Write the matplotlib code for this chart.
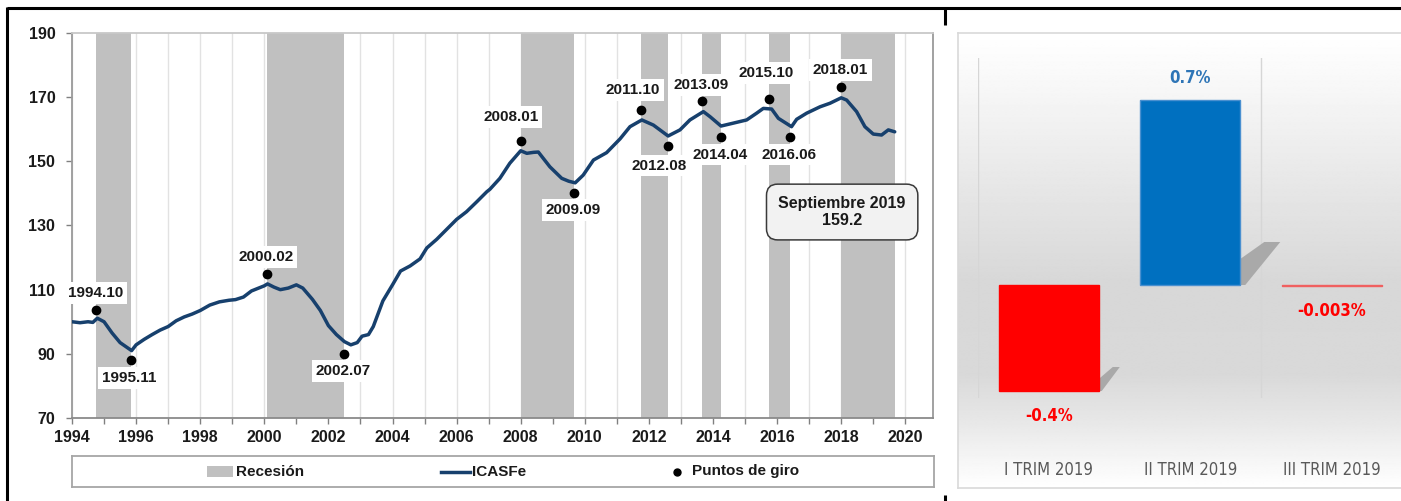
import numpy as np
import matplotlib
matplotlib.use("Agg")
import matplotlib.pyplot as plt
from matplotlib.patches import Rectangle, Polygon
from matplotlib.lines import Line2D
from matplotlib import font_manager

# ---------------- data ----------------
# ICASFe (index), decimal years
icasfe_fecha = [1994.00, 1994.25, 1994.50, 1994.65, 1994.79, 1995.00, 1995.25, 1995.50, 1995.86,
                1996.00, 1996.25, 1996.50, 1996.75, 1997.00, 1997.25, 1997.50, 1997.75, 1998.00,
                1998.30, 1998.60, 1998.90, 1999.10, 1999.35, 1999.60, 1999.85, 2000.00, 2000.10,
                2000.30, 2000.50, 2000.75, 2001.00, 2001.20, 2001.50, 2001.75, 2002.00, 2002.25,
                2002.50, 2002.70, 2002.90, 2003.05, 2003.25, 2003.40, 2003.70, 2004.00, 2004.25,
                2004.55, 2004.86, 2005.07, 2005.38, 2005.69, 2006.00, 2006.31, 2006.63, 2006.94,
                2007.04, 2007.35, 2007.66, 2008.00, 2008.19, 2008.40, 2008.55, 2008.91, 2009.28,
                2009.50, 2009.70, 2009.95, 2010.27, 2010.68, 2011.10, 2011.41, 2011.78, 2012.14,
                2012.60, 2012.97, 2013.28, 2013.70, 2013.91, 2014.25, 2014.63, 2015.05, 2015.36,
                2015.57, 2015.83, 2016.04, 2016.45, 2016.61, 2016.92, 2017.34, 2017.65, 2018.00,
                2018.17, 2018.48, 2018.74, 2019.00, 2019.26, 2019.47, 2019.67]
icasfe_valor = [100.0, 99.7, 100.0, 99.8, 101.1, 100.0, 96.5, 93.5, 91.0,
                92.8, 94.5, 96.0, 97.4, 98.5, 100.3, 101.5, 102.4, 103.5,
                105.2, 106.2, 106.7, 106.9, 107.7, 109.6, 110.6, 111.2, 111.8,
                110.8, 110.0, 110.5, 111.5, 110.5, 107.0, 103.5, 98.8, 96.0,
                93.8, 92.8, 93.5, 95.5, 96.0, 98.5, 106.5, 111.5, 115.8,
                117.4, 119.6, 123.0, 125.7, 128.8, 131.9, 134.3, 137.4, 140.5,
                141.3, 144.7, 149.4, 153.3, 152.5, 152.8, 152.9, 148.3, 144.7,
                143.8, 143.3, 145.7, 150.4, 152.7, 157.0, 160.8, 162.9, 161.3,
                157.9, 159.8, 162.9, 165.5, 163.9, 161.0, 161.9, 162.9, 165.0,
                166.5, 166.3, 163.4, 160.8, 163.1, 165.0, 167.0, 168.1, 169.8,
                169.1, 165.5, 160.8, 158.5, 158.2, 159.8, 159.2]

# turning points (year.month) and dot values
giro_etiqueta = ["1994.10", "1995.11", "2000.02", "2002.07", "2008.01", "2009.09", "2011.10",
                 "2012.08", "2013.09", "2014.04", "2015.10", "2016.06", "2018.01"]
giro_valor = [103.7, 88.1, 114.9, 90.0, 156.4, 140.2, 166.0, 154.9, 168.8, 157.7, 169.5, 157.7, 173.1]

# recessions (peak -> trough)
recesion_inicio = ["1994.10", "2000.02", "2008.01", "2011.10", "2013.09", "2015.10", "2018.01"]
recesion_fin = ["1995.11", "2002.07", "2009.09", "2012.08", "2014.04", "2016.06", "2019.09"]

y_ticks = [70, 90, 110, 130, 150, 170, 190]
x_ticks = list(range(1994, 2021, 2))

nota_texto = "Septiembre 2019\n159.2"
leyenda = ["Recesión", "ICASFe", "Puntos de giro"]

# quarterly change
trimestres = ["I TRIM 2019", "II TRIM 2019", "III TRIM 2019"]
variacion = [-0.4, 0.7, -0.003]
variacion_txt = ["-0.4%", "0.7%", "-0.003%"]


def ym(s):
    y, m = s.split(".")
    return int(y) + (int(m) - 1) / 12.0


# ---------------- figure ----------------
W, H = 1401, 501
fig = plt.figure(figsize=(W / 100, H / 100), dpi=100)
fig.patch.set_facecolor("white")


def axes_px(x0, y0, x1, y1, **kw):
    return fig.add_axes([x0 / W, 1 - y1 / H, (x1 - x0) / W, (y1 - y0) / H], **kw)


BASE = ["Liberation Sans", "DejaVu Sans"]
DARK = "#1a1a1a"
NAVY = "#17406d"
BAND = "#c0c0c0"

# ---- left line chart ----
ax = axes_px(72, 33, 933, 418)
ax.set_xlim(1994, 1994 + 861 / 32.05)
ax.set_ylim(70, 190)
ax.set_axisbelow(True)

for a, b in zip(recesion_inicio, recesion_fin):
    ax.axvspan(ym(a), ym(b), color=BAND, lw=0, zorder=1)

ax.plot(icasfe_fecha, icasfe_valor, color=NAVY, lw=2.5, zorder=3,
        solid_capstyle="round", solid_joinstyle="round")

offs = [(0, -17), (-2, 18), (-1, -17), (-1, 17), (-10, -24), (-1, 17), (-8, -20),
        (-8, 20), (-1, -16), (-1, 18), (-3, -26), (-1, 18), (-1, -17)]
for lab, v, (dx, dy) in zip(giro_etiqueta, giro_valor, offs):
    xd = ym(lab)
    ax.plot([xd], [v], "o", color="black", ms=6, zorder=4)
    ax.annotate(lab, (xd, v), xytext=(dx, -dy), textcoords="offset pixels",
                ha="center", va="center", fontsize=11, fontweight="bold",
                family=BASE, color=DARK, zorder=5,
                bbox=dict(boxstyle="square,pad=0.25", fc="white", ec="none"))

ax.annotate(nota_texto, (2018.03, 134.2), ha="center", va="center", fontsize=11.5,
            fontweight="bold", family=BASE, color=DARK, linespacing=1.15, zorder=6,
            bbox=dict(boxstyle="round,pad=0.75,rounding_size=0.7", fc="#f2f2f2",
                      ec="#3a3a3a", lw=1.1))

ax.set_xticks(x_ticks)
ax.set_xticks(list(range(1994, 2021)), minor=True)
ax.set_yticks(y_ticks)
ax.grid(axis="x", which="both", color="#e2e2e2", lw=1.0)
ax.tick_params(axis="both", which="both", direction="out", length=4, width=1,
               color="#808080")
ax.tick_params(axis="x", which="major", pad=5)
ax.tick_params(axis="y", which="major", pad=8)
for t in ax.get_xticklabels() + ax.get_yticklabels():
    t.set_fontweight("bold")
    t.set_fontsize(11.5)
    t.set_family(BASE)
    t.set_color(DARK)
for side, c in [("left", "#9a9a9a"), ("bottom", "#8a8a8a"), ("top", "#c8c8c8"), ("right", "#9a9a9a")]:
    ax.spines[side].set_color(c)
    ax.spines[side].set_linewidth(1.3)

# ---- legend box ----
lg = axes_px(72, 456, 934, 487)
lg.set_xlim(72, 934)
lg.set_ylim(0, 1)
lg.set_xticks([])
lg.set_yticks([])
for s in lg.spines.values():
    s.set_color("#a6a6a6")
    s.set_linewidth(1.3)
lg.add_patch(Rectangle((207, 0.33), 26, 0.36, color=BAND, lw=0))
lg.text(236, 0.5, leyenda[0], va="center", ha="left", fontsize=11, fontweight="bold",
        family=BASE, color=DARK)
lg.plot([441, 470], [0.5, 0.5], color=NAVY, lw=2.5)
lg.text(472, 0.5, leyenda[1], va="center", ha="left", fontsize=11, fontweight="bold",
        family=BASE, color=DARK)
lg.plot([677], [0.5], "o", color="black", ms=5)
lg.text(692, 0.5, leyenda[2], va="center", ha="left", fontsize=11, fontweight="bold",
        family=BASE, color=DARK)

# ---- right panel: background gradient ----
bg = axes_px(958, 33, 1412, 488)
tpos = [0.0, 0.08, 0.3, 0.55, 0.75, 0.86, 0.95, 1.0]
tval = [1.0, 0.98, 0.915, 0.845, 0.85, 0.91, 0.97, 1.0]
grad = np.interp(np.linspace(0, 1, 400), tpos, tval).reshape(-1, 1)
bg.imshow(grad, cmap="gray", vmin=0, vmax=1, aspect="auto", extent=[0, 1, 0, 1],
          interpolation="bilinear")
bg.set_xticks([])
bg.set_yticks([])
for s in bg.spines.values():
    s.set_color("#d9d9d9")
    s.set_linewidth(1.2)

names = {f.name for f in font_manager.fontManager.ttflist}
if "Liberation Sans Narrow" in names:
    NARROW = dict(family=["Liberation Sans Narrow", "DejaVu Sans"])
    cat_fs, val_fs = 13.5, 13.5
else:
    NARROW = dict(family=["DejaVu Sans"], fontstretch="condensed")
    cat_fs, val_fs = 12, 12

SX, SY = 141.5, 265.0
bx = axes_px(978, 58, 978 + 3 * SX, 398)
bx.set_xlim(-0.5, 2.5)
bx.set_ylim(-113 / SY, 227 / SY)
bx.set_facecolor("none")
bx.axis("off")
for xv in (-0.5, 1.5):
    bx.axvline(xv, color="#d6d6d6", lw=1, zorder=0)

bw = 0.707
colores = ["#ff0000", "#0070c0", "#ff0000"]
bordes = ["#ff0000", "#4a90d0", "#f06060"]
xs = np.arange(len(trimestres))
bx.bar(xs, variacion, width=bw, color=colores, edgecolor=bordes, lw=1, zorder=3)

# 3D-like shadows (pixel offsets), only for visible bars
sombras = [[(0, 12), (14, 24), (21, 24), (3, 0), (0, 0)],
           [(0, 26), (24, 43), (40, 43), (5, 0), (0, 0)],
           None]
for i, v in enumerate(variacion):
    if sombras[i] is None:
        continue
    R = i + bw / 2
    B = min(v, 0)
    pts = [(R + dx / SX, B + dy / SY) for dx, dy in sombras[i]]
    bx.add_patch(Polygon(pts, closed=True, fc="#a4a4a4", ec="none", alpha=0.9, zorder=2))

val_colors = ["#ff0000", "#2e75b6", "#ff0000"]
for i, (v, t) in enumerate(zip(variacion, variacion_txt)):
    off = 22 if v > 0 else -25
    bx.annotate(t, (i, v if v > 0 else min(v, 0)), xytext=(0, off), textcoords="offset pixels",
                ha="center", va="center", fontsize=val_fs, fontweight="bold",
                color=val_colors[i], **NARROW)

for i, c in enumerate(trimestres):
    bx.text(i, -72 / 340, c, transform=bx.get_xaxis_transform(), ha="center", va="center",
            fontsize=cat_fs, color="#595959", **NARROW)

# ---- outer frame lines ----
def fline(x0, y0, x1, y1, lw=2.2):
    fig.add_artist(Line2D([x0 / W, x1 / W], [1 - y0 / H, 1 - y1 / H], color="black",
                          lw=lw, transform=fig.transFigure, solid_capstyle="butt"))

fline(7, 7.5, W, 7.5)
fline(7.5, 6.5, 7.5, H)
fline(945, 7, 945, 25)
fline(945, 495, 945, H)

fig.savefig("out.png", dpi=100, facecolor="white")
